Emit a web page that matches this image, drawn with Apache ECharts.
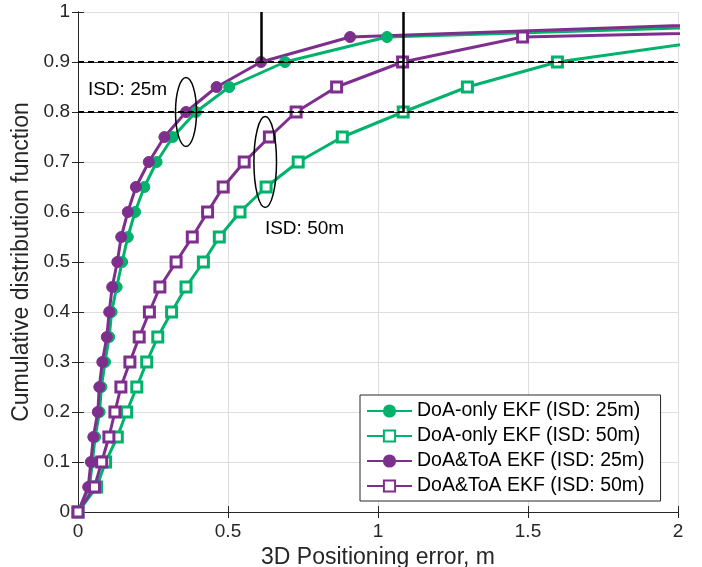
<!DOCTYPE html>
<html>
<head>
<meta charset="utf-8">
<script src="https://cdn.jsdelivr.net/npm/echarts@6/dist/echarts.min.js"></script>
<style>
  html, body { margin: 0; padding: 0; background: #fff; }
  #main { width: 702px; height: 567px; }
</style>
</head>
<body>
<div id="main"></div>
<script>
// CDF levels (y) and the error values (x) read for each curve
const cdfLevels = [0, 0.05, 0.1, 0.15, 0.2, 0.25, 0.3, 0.35, 0.4, 0.45, 0.5, 0.55, 0.6, 0.65, 0.7, 0.75, 0.8, 0.85, 0.9, 0.95, 1.0];
const doaOnly25 = [0, 0.038, 0.048, 0.057, 0.072, 0.078, 0.09, 0.104, 0.112, 0.129, 0.147, 0.166, 0.19, 0.221, 0.262, 0.316, 0.393, 0.504, 0.69, 1.03, 3.72];
const doaOnly50 = [0, 0.062, 0.092, 0.131, 0.162, 0.196, 0.229, 0.266, 0.312, 0.36, 0.418, 0.471, 0.54, 0.627, 0.734, 0.881, 1.084, 1.298, 1.598, 2.19];
const doaToa25 = [0, 0.034, 0.043, 0.051, 0.066, 0.071, 0.081, 0.096, 0.104, 0.114, 0.131, 0.144, 0.166, 0.193, 0.236, 0.288, 0.36, 0.462, 0.61, 0.907, 3.3];
const doaToa50 = [0, 0.055, 0.079, 0.103, 0.123, 0.143, 0.173, 0.204, 0.238, 0.273, 0.327, 0.381, 0.432, 0.484, 0.554, 0.638, 0.727, 0.862, 1.082, 1.482, 5.2];

const seriesNames = ['DoA-only EKF (ISD: 25m)', 'DoA-only EKF (ISD: 50m)', 'DoA&ToA EKF (ISD: 25m)', 'DoA&ToA EKF (ISD: 50m)'];
const xTicks = [0, 0.5, 1, 1.5, 2];
const refLevels = [0.9, 0.8];
// vertical markers: [x, from y, to y]
const markers = [[0.61, 0.9, 1], [1.084, 0.8, 1]];
// annotations (data coords)
const ellipses = [[0.36, 0.80, 10.5, 34.5], [0.624, 0.70, 11.3, 45.5]];
const labels = [['ISD: 25m', 0.033, 0.845], ['ISD: 50m', 0.623, 0.566]];

const GREEN = '#00B26B';
const PURPLE = '#7E2F8E';
const INK = '#262626';
const FONT = 'Liberation Sans, Arial, sans-serif';

function pairs(xs) {
  return xs.map((x, i) => [x, cdfLevels[i]]);
}

function curve(name, xs, color, symbol) {
  return {
    name: name,
    type: 'line',
    data: pairs(xs),
    clip: true,
    symbol: symbol,
    symbolSize: symbol === 'circle' ? 11 : 10,
    lineStyle: { color: color, width: 3 },
    itemStyle: {
      color: symbol === 'circle' ? color : '#fff',
      borderColor: color,
      borderWidth: symbol === 'circle' ? 1 : 3
    },
    z: 3
  };
}

let chart = echarts.init(document.getElementById('main'));

const axisCommon = {
  axisLine: { show: true, lineStyle: { color: INK, width: 1 } },
  axisTick: { show: true, inside: true, length: 6, lineStyle: { color: INK } }
};

chart.setOption({
  animation: false,
  textStyle: { fontFamily: FONT },
  grid: { left: 78, top: 12, right: 24, bottom: 55, containLabel: false, outerBoundsMode: 'none' },
  xAxis: [
    Object.assign({
      type: 'value', min: 0, max: 2, interval: 0.5,
      name: '3D Positioning error, m', nameLocation: 'middle', nameGap: 30,
      nameTextStyle: { fontSize: 23, color: INK, fontFamily: FONT },
      axisLabel: { fontSize: 19, color: INK, margin: 10, fontFamily: FONT,
        formatter: v => xTicks.indexOf(v) >= 0 ? String(v) : '' },
      splitLine: { show: true, lineStyle: { color: '#dedede', width: 1 } }
    }, axisCommon),
    Object.assign({
      type: 'value', min: 0, max: 2, interval: 0.5, position: 'top',
      axisLabel: { show: false }, splitLine: { show: false }
    }, axisCommon)
  ],
  yAxis: [
    Object.assign({
      type: 'value', min: 0, max: 1, interval: 0.1,
      name: 'Cumulative distribution function', nameLocation: 'middle', nameGap: 42,
      nameTextStyle: { fontSize: 23, color: INK, fontFamily: FONT },
      axisLabel: { fontSize: 19, color: INK, margin: 8, fontFamily: FONT },
      splitLine: { show: true, lineStyle: { color: '#dedede', width: 1 } }
    }, axisCommon),
    Object.assign({
      type: 'value', min: 0, max: 1, interval: 0.1, position: 'right',
      axisLabel: { show: false }, splitLine: { show: false }
    }, axisCommon)
  ],
  legend: {
    data: seriesNames,
    orient: 'vertical',
    left: 360, top: 395,
    padding: [6, 16, 5, 6],
    itemGap: 5,
    itemWidth: 45, itemHeight: 14,
    backgroundColor: '#fff',
    borderColor: INK, borderWidth: 1, borderRadius: 0,
    textStyle: { fontSize: 19.5, color: '#000', fontFamily: FONT }
  },
  series: [
    curve(seriesNames[0], doaOnly25, GREEN, 'circle'),
    curve(seriesNames[1], doaOnly50, GREEN, 'rect'),
    curve(seriesNames[2], doaToa25, PURPLE, 'circle'),
    curve(seriesNames[3], doaToa50, PURPLE, 'rect'),
    {
      type: 'line', data: [], silent: true, z: 2,
      markLine: {
        silent: true, symbol: 'none', animation: false,
        label: { show: false },
        data: refLevels.map(v => ({ yAxis: v, lineStyle: { type: [6, 4], color: '#000', width: 2 } }))
          .concat(refLevels.map(v => ({ yAxis: v, lineStyle: { type: 'solid', color: '#000', width: 0.8 } })))
          .concat(markers.map(m => [
            { coord: [m[0], m[1]], lineStyle: { type: 'solid', color: '#000', width: 2.5 } },
            { coord: [m[0], m[2]] }
          ]))
      }
    }
  ]
});

// annotation ellipses and texts, placed through the axes
let graphics = [];
ellipses.forEach(e => {
  let p = chart.convertToPixel({ gridIndex: 0 }, [e[0], e[1]]);
  graphics.push({
    type: 'ellipse', silent: true, z: 10,
    shape: { cx: p[0], cy: p[1], rx: e[2], ry: e[3] },
    style: { fill: 'none', stroke: '#000', lineWidth: 1.5 }
  });
});
labels.forEach(l => {
  let p = chart.convertToPixel({ gridIndex: 0 }, [l[1], l[2]]);
  graphics.push({
    type: 'text', silent: true, z: 10,
    x: p[0], y: p[1],
    style: { text: l[0], fill: '#000', fontSize: 19, fontFamily: FONT, verticalAlign: 'middle' }
  });
});
chart.setOption({ graphic: graphics });
</script>
</body>
</html>
